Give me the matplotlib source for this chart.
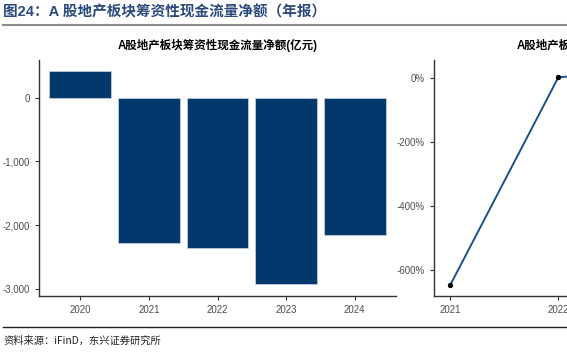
import matplotlib.pyplot as plt
from matplotlib.ticker import FuncFormatter, FixedLocator

plt.rcParams['font.family'] = ['Liberation Sans', 'Noto Sans CJK SC', 'DejaVu Sans']

years = ["2020", "2021", "2022", "2023", "2024"]
net_flow = [420, -2285, -2360, -2920, -2155]

yoy_years = [2021, 2022, 2023, 2024]
yoy_pct = [-648, 2, 25, -26]

bar_color = "#02386B"
line_color = "#1D4F8C"
tick_color = "#4D4D4D"

fig = plt.figure(figsize=(5.67, 3.53), dpi=100)

# header
fig.text(0.006, 0.965, "图24：A 股地产板块筹资性现金流量净额（年报）",
         fontsize=10.5, fontweight="bold", color="#2B4A7E", va="center",
         family=["Liberation Sans", "Noto Sans CJK SC"])
fig.add_artist(plt.Line2D([0.005, 1.0], [0.928, 0.928], color="#8C8C8C", lw=1.5))

# footer
fig.add_artist(plt.Line2D([0.005, 1.0], [0.074, 0.074], color="#222222", lw=1.0))
fig.text(0.006, 0.036, "资料来源：iFinD，东兴证券研究所", fontsize=7.4,
         color="#222222", va="center", style="italic",
         family=["Noto Sans CJK SC", "Liberation Sans"])


def style_axes(ax):
    for side in ["top", "right"]:
        ax.spines[side].set_visible(False)
    for side in ["left", "bottom"]:
        ax.spines[side].set_color("#333333")
        ax.spines[side].set_linewidth(1.0)
    ax.tick_params(axis="both", colors="#333333", labelcolor=tick_color,
                   labelsize=7, length=3, width=0.8)


# left panel: bars
ax1 = fig.add_axes([0.0688, 0.1615, 0.6296, 0.6686])
x = list(range(len(years)))
ax1.bar(x, net_flow, width=0.9, color=bar_color, edgecolor="#C9D6E6", linewidth=0.5)
ax1.set_xticks(x)
ax1.set_xticklabels(years)
ax1.set_xlim(-0.6, len(years) - 0.4)
ax1.set_ylim(-3110, 590)
ax1.yaxis.set_major_locator(FixedLocator([-3000, -2000, -1000, 0]))
ax1.yaxis.set_major_formatter(FuncFormatter(lambda v, p: f"{v:,.0f}"))
ax1.set_title("A股地产板块筹资性现金流量净额(亿元)", fontsize=8.3,
              fontweight="bold", pad=8,
              family=["Liberation Sans", "Noto Sans CJK SC"])
style_axes(ax1)

# right panel: yoy line
ax2 = fig.add_axes([0.7654, 0.1615, 0.6296, 0.6686])
ax2.plot(yoy_years, yoy_pct, color=line_color, lw=1.4, zorder=2)
ax2.scatter(yoy_years, yoy_pct, color="black", s=8, zorder=3)
ax2.set_xticks(yoy_years)
ax2.set_xlim(2020.85, 2024.15)
ax2.set_ylim(-682, 56)
ax2.yaxis.set_major_locator(FixedLocator([-600, -400, -200, 0]))
ax2.yaxis.set_major_formatter(FuncFormatter(lambda v, p: f"{v:.0f}%"))
ax2.set_title("A股地产板块筹资性现金流量净额同比", fontsize=8.3,
              fontweight="bold", pad=8,
              family=["Liberation Sans", "Noto Sans CJK SC"])
style_axes(ax2)

fig.savefig("out.png", dpi=100)
